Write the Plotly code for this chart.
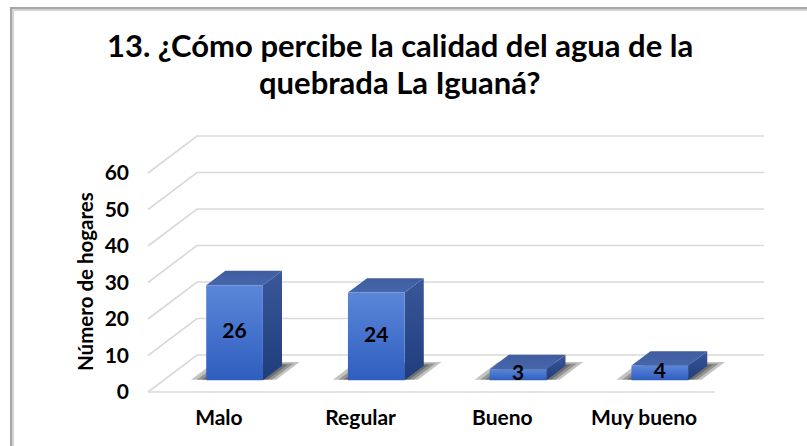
import plotly.graph_objects as go

# ---------------- data ----------------
categories = ["Malo", "Regular", "Bueno", "Muy bueno"]
values = [26, 24, 3, 4]
y_ticks = [0, 10, 20, 30, 40, 50, 60]
title_lines = ["13. ¿Cómo percibe la calidad del agua de la", "quebrada La Iguaná?"]
y_title = "Número de hogares"

# ---------------- geometry ----------------
W, H = 807, 446
PX_CAT = 141.75        # pixels per category slot
PX_VAL = 3.65          # pixels per value unit
X0_PX = 148            # pixel of front-left floor corner
Y0_PX = 392            # pixel of front value 0
DX = 49 / PX_CAT       # depth offset in category units
DY = 37 / PX_VAL       # depth offset in value units
D0, D1 = 0.32, 0.71    # bar front / back depth fraction
BW = 0.40              # bar width in category units

L, R, T, B = 134, 36, 128, 46
plot_w = W - L - R
plot_h = H - T - B
x_lo = -0.5 - (X0_PX - L) / PX_CAT
x_hi = x_lo + plot_w / PX_CAT
y_lo = -((H - B) - Y0_PX) / PX_VAL
y_hi = y_lo + plot_h / PX_VAL
n = len(categories)


def P(x, v, d):
    return x + d * DX, v + d * DY


def px2paper(px, py):
    return (px - L) / plot_w, ((H - B) - py) / plot_h


FONT = "Lato"
fig = go.Figure()

# gridlines (side wall diagonal + back wall) and floor front edge
gx, gy = [], []
for v in y_ticks:
    for pt in (P(-0.5, v, 0), P(-0.5, v, 1), P(n - 0.5, v, 1)):
        gx.append(pt[0]); gy.append(pt[1])
    gx.append(None); gy.append(None)
a, b = P(-0.5, 0, 0), P(n - 0.5, 0, 0)
gx += [a[0], b[0]]; gy += [a[1], b[1]]
fig.add_trace(go.Scatter(x=gx, y=gy, mode="lines", line=dict(color="#d9d9d9", width=1.6),
                         hoverinfo="skip", showlegend=False))


def poly(pts, **kw):
    xs = [p[0] for p in pts] + [pts[0][0]]
    ys = [p[1] for p in pts] + [pts[0][1]]
    fig.add_trace(go.Scatter(x=xs, y=ys, mode="lines", fill="toself", line=dict(width=0),
                             hoverinfo="skip", showlegend=False, **kw))


for i, v in enumerate(values):
    xl, xr = i - BW / 2, i + BW / 2
    # soft shadow on floor
    for ex_l, ex_r, ex_d in [(0.11, 0.09, 0.10), (0.07, 0.06, 0.06), (0.035, 0.03, 0.03)]:
        poly([P(xl - ex_l, 0, D0 + 0.01), P(xr + ex_r, 0, D0 + 0.01),
              P(xr + ex_r, 0, D1 + ex_d), P(xl - ex_l, 0, D1 + ex_d)],
             fillcolor="rgba(0,0,0,0.24)")
    # side face
    poly([P(xr, 0, D0), P(xr, 0, D1), P(xr, v, D1), P(xr, v, D0)],
         fillgradient=dict(type="vertical", colorscale=[[0, "#1f3c7c"], [1, "#3a5799"]]),
         fillcolor="#2b4a8c")
    # top face
    poly([P(xl, v, D0), P(xr, v, D0), P(xr, v, D1), P(xl, v, D1)],
         fillgradient=dict(type="vertical", colorscale=[[0, "#4766ab"], [1, "#3f5c9f"]]),
         fillcolor="#4462a6")
    # front face
    poly([P(xl, 0, D0), P(xr, 0, D0), P(xr, v, D0), P(xl, v, D0)],
         fillgradient=dict(type="vertical", colorscale=[[0, "#2f5ec0"], [1, "#5b86d8"]]),
         fillcolor="#4472c4")

# value labels on the front faces
lx = [P(i, v / 2, D0)[0] for i, v in enumerate(values)]
ly = [P(i, v / 2, D0)[1] for i, v in enumerate(values)]
fig.add_trace(go.Scatter(x=lx, y=ly, mode="text", text=[str(v) for v in values],
                         textfont=dict(family=FONT, size=21, color="#000000", weight="bold"),
                         textposition="middle center", hoverinfo="skip", showlegend=False))

annotations = []
for txt, py in zip(title_lines, [45, 82]):
    xp, yp = px2paper(400, py)
    annotations.append(dict(text=txt, x=xp, y=yp, xref="paper", yref="paper", showarrow=False,
                            xanchor="center", yanchor="middle",
                            font=dict(family=FONT, size=31, color="#000000", weight="bold")))
xp, yp = px2paper(85, 282)
annotations.append(dict(text=y_title, x=xp, y=yp, xref="paper", yref="paper", showarrow=False,
                        xanchor="center", yanchor="middle", textangle=-90,
                        font=dict(family=FONT, size=20.5, color="#000000", weight="bold")))

# frame
shapes = []
for px_off, col in [(11, "#a6a6a6"), (13, "#d4d4d4")]:
    x0, y1 = px2paper(px_off, px_off - 3)
    x1, y0 = px2paper(W + 20, H + 20)
    shapes.append(dict(type="rect", xref="paper", yref="paper", x0=x0, x1=x1, y0=y0, y1=y1,
                       line=dict(color=col, width=2), layer="above"))

fig.update_layout(
    width=W, height=H,
    margin=dict(l=L, r=R, t=T, b=B, autoexpand=False),
    paper_bgcolor="white", plot_bgcolor="white",
    showlegend=False,
    annotations=annotations,
    shapes=shapes,
    xaxis=dict(range=[x_lo, x_hi], tickvals=list(range(n)), ticktext=categories,
               showgrid=False, zeroline=False, showline=False, ticks="",
               ticklabelstandoff=3,
               tickfont=dict(family=FONT, size=21, color="#000000", weight="bold"),
               fixedrange=True),
    yaxis=dict(range=[y_lo, y_hi], tickvals=y_ticks, showgrid=False, zeroline=False,
               showline=False, ticks="", ticklabelstandoff=4,
               tickfont=dict(family=FONT, size=21, color="#000000", weight="bold"),
               fixedrange=True),
)

fig.write_html("out.html", config={"displayModeBar": False},
               post_script="document.body.style.margin='0';document.body.style.overflow='hidden';")
